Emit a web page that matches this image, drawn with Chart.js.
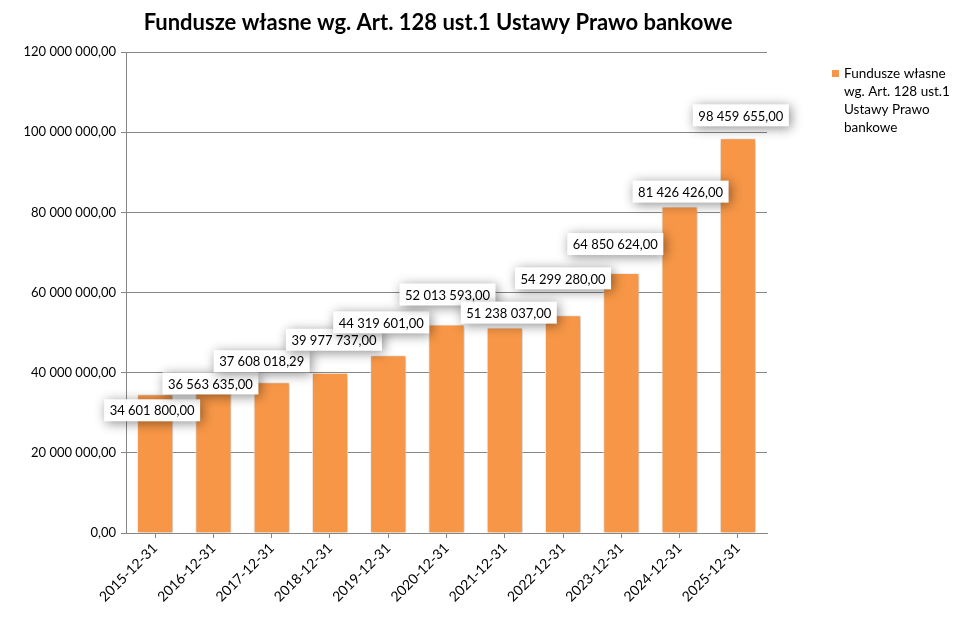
<!DOCTYPE html>
<html>
<head>
<meta charset="utf-8">
<script src="https://cdn.jsdelivr.net/npm/chart.js@4.4.1/dist/chart.umd.min.js"></script>
<style>
  html, body { margin: 0; padding: 0; background: #fff; }
  #wrap { width: 969px; height: 627px; position: relative; }
</style>
</head>
<body>
<div id="wrap"><canvas id="myChart" width="969" height="627"></canvas></div>
<script>
// data
const categories = ["2015-12-31","2016-12-31","2017-12-31","2018-12-31","2019-12-31","2020-12-31","2021-12-31","2022-12-31","2023-12-31","2024-12-31","2025-12-31"];
const funduszeValues = [34601800.00, 36563635.00, 37608018.29, 39977737.00, 44319601.00, 52013593.00, 51238037.00, 54299280.00, 64850624.00, 81426426.00, 98459655.00];
const yTicks = [0, 20000000, 40000000, 60000000, 80000000, 100000000, 120000000];
const chartTitle = "Fundusze własne wg. Art. 128 ust.1 Ustawy Prawo bankowe";
const legendLines = ["Fundusze własne", "wg. Art. 128 ust.1", "Ustawy Prawo", "bankowe"];

// label shifts (px) relative to the bar top, like excel placed them
const labelShift = [[-3,16],[-3,-3],[-10,-21],[4,-33],[-7,-33],[1,-30],[4,-15],[0,-37],[-6,-29],[1,-15],[3,-23]];

const FONT = "Lato, 'Open Sans', sans-serif";
const BAR = "#F79646";

function fmt(v) {
    let parts = v.toFixed(2).split(".");
    let int = parts[0].replace(/\B(?=(\d{3})+(?!\d))/g, " ");
    return int + "," + parts[1];
}

// title, legend and value boxes
const extras = {
    id: "extras",
    beforeDatasetsDraw(chart) {
        chart.ctx.save();
        chart.ctx.shadowColor = "rgba(0,0,0,0.28)";
        chart.ctx.shadowBlur = 4;
        chart.ctx.shadowOffsetX = 1;
        chart.ctx.shadowOffsetY = 1;
    },
    afterDatasetsDraw(chart) {
        chart.ctx.restore();
        const ctx = chart.ctx;
        const meta = chart.getDatasetMeta(0);
        ctx.save();
        ctx.font = "13px " + FONT;
        ctx.textAlign = "center";
        ctx.textBaseline = "middle";
        meta.data.forEach(function (bar, i) {
            let txt = fmt(funduszeValues[i]);
            let x = bar.x + labelShift[i][0];
            let y = bar.y + labelShift[i][1];
            let w = 96, h = 22;
            ctx.save();
            ctx.shadowColor = "rgba(0,0,0,0.45)";
            ctx.shadowBlur = 12;
            ctx.shadowOffsetX = 2;
            ctx.shadowOffsetY = 2;
            ctx.fillStyle = "#fff";
            ctx.fillRect(x - w / 2, y - h / 2, w, h);
            ctx.restore();
            ctx.fillStyle = "#000";
            ctx.fillText(txt, x, y + 1);
        });
        ctx.restore();
    },
    afterDraw(chart) {
        const ctx = chart.ctx;
        ctx.save();
        // title
        ctx.font = "bold 22px " + FONT;
        ctx.fillStyle = "#000";
        ctx.textAlign = "center";
        ctx.textBaseline = "middle";
        ctx.fillText(chartTitle, 438, 23);
        // legend
        ctx.fillStyle = BAR;
        ctx.fillRect(832, 70, 7, 7);
        ctx.fillStyle = "#000";
        ctx.font = "13.5px " + FONT;
        ctx.textAlign = "left";
        legendLines.forEach(function (line, i) {
            ctx.fillText(line, 844, 74 + i * 18);
        });
        ctx.restore();
    }
};

new Chart("myChart", {
    type: "bar",
    data: {
        labels: categories,
        datasets: [{
            label: legendLines.join(" "),
            data: funduszeValues,
            backgroundColor: BAR,
            borderColor: "#fff",
            borderWidth: 1,
            barPercentage: 0.62,
            categoryPercentage: 1
        }]
    },
    options: {
        responsive: false,
        animation: false,
        layout: { padding: { top: 52, right: 202, left: 0, bottom: 0 } },
        plugins: {
            legend: { display: false },
            tooltip: { enabled: false }
        },
        scales: {
            y: {
                min: 0,
                max: 120000000,
                afterBuildTicks: function (axis) {
                    axis.ticks = yTicks.map(function (v) { return { value: v }; });
                },
                afterFit: function (axis) { axis.width = 126; },
                ticks: {
                    color: "#000",
                    font: { family: FONT, size: 13 },
                    padding: 5,
                    callback: function (v) { return fmt(v); }
                },
                grid: { color: "#868686", tickLength: 5 },
                border: { color: "#868686" }
            },
            x: {
                afterFit: function (axis) { axis.height = 94; },
                ticks: {
                    color: "#000",
                    font: { family: FONT, size: 14 },
                    maxRotation: 45,
                    minRotation: 45,
                    padding: 2
                },
                grid: { offset: false, drawOnChartArea: false, color: "#868686", tickLength: 5 },
                border: { color: "#868686" }
            }
        }
    },
    plugins: [extras]
});
</script>
</body>
</html>
